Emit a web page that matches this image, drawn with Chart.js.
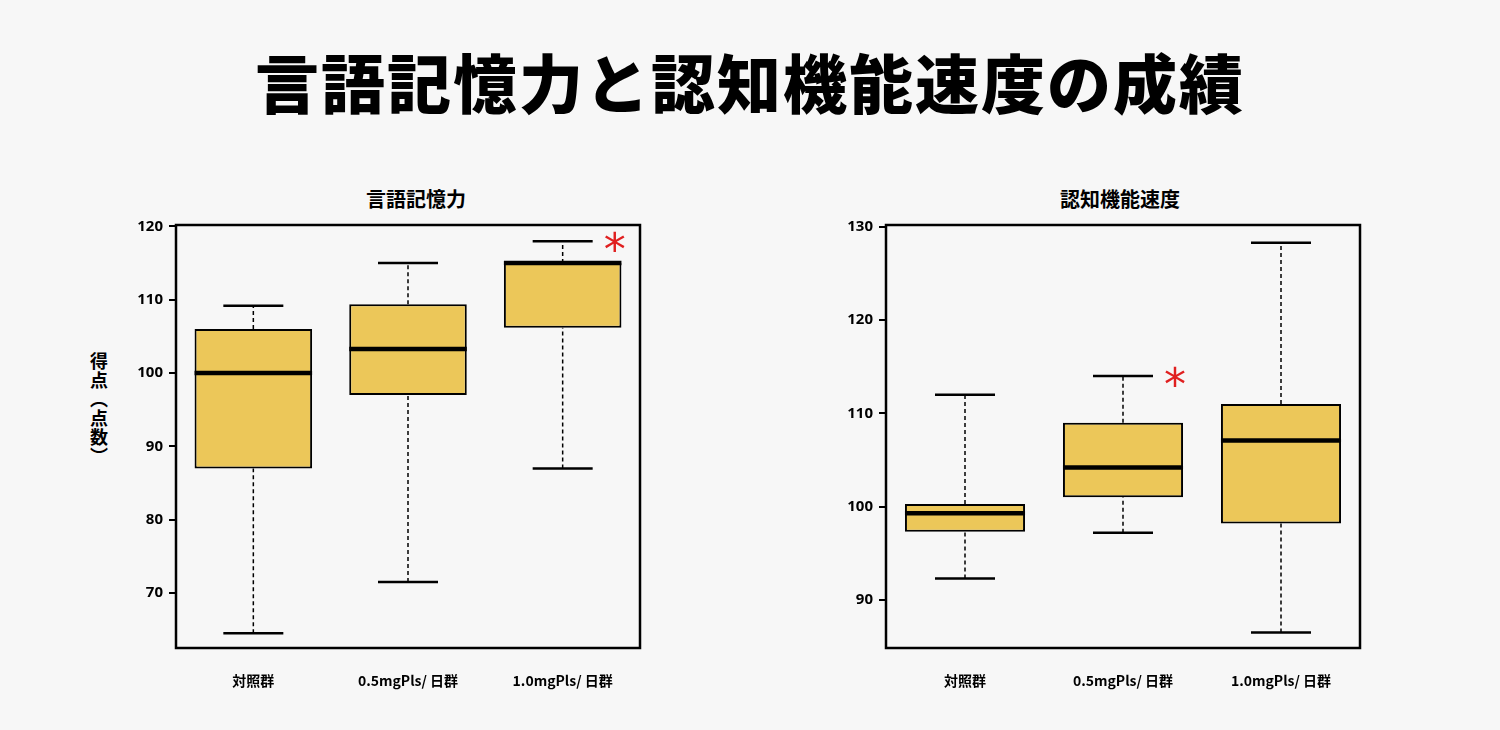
<!DOCTYPE html>
<html><head><meta charset="utf-8">
<script src="https://cdn.jsdelivr.net/npm/chart.js@4.4.0/dist/chart.umd.min.js"></script>
<style>
body{margin:0;width:1500px;height:730px;background:#f7f7f7;font-family:"Noto Sans CJK JP",sans-serif;position:relative;overflow:hidden}
.t{position:absolute;width:100%;text-align:center;top:34px;font-size:64px;font-weight:900;color:#000;letter-spacing:2px}
.st{position:absolute;top:184px;font-size:20px;font-weight:700;text-align:center;width:300px}
.yl{position:absolute;left:86px;top:352px;writing-mode:vertical-rl;font-size:18px;font-weight:700;letter-spacing:1px}
canvas{position:absolute}
</style></head><body>
<div class="t">言語記憶力と認知機能速度の成績</div>
<div class="st" style="left:266px">言語記憶力</div>
<div class="st" style="left:970px">認知機能速度</div>
<div class="yl">得点（点数）</div>
<canvas id="c1" style="left:80px;top:210px;width:600px;height:488px" width="600" height="488"></canvas>
<canvas id="c2" style="left:800px;top:210px;width:600px;height:488px" width="600" height="488"></canvas>
<script>
const categories = ["対照群", "0.5mgPls/ 日群", "1.0mgPls/ 日群"];
// 言語記憶力
const memMin = [64.5, 71.5, 87];
const memQ1 = [87, 97, 106.2];
const memMed = [100, 103.3, 115];
const memQ3 = [106, 109.4, 115];
const memMax = [109.2, 115, 118];
const memStar = [false, false, true];
const memTicks = [70, 80, 90, 100, 110, 120];
// 認知機能速度
const spdMin = [92.3, 97.2, 86.5];
const spdQ1 = [97.3, 101, 98.2];
const spdMed = [99.3, 104.2, 107.1];
const spdQ3 = [100.3, 109, 111];
const spdMax = [112, 114, 128.3];
const spdStar = [false, true, false];
const spdTicks = [90, 100, 110, 120, 130];

const whiskerPlugin = {
  id: "whiskers",
  afterDatasetsDraw(chart) {
    const d = chart.config.options.boxData;
    const x = chart.scales.x, y = chart.scales.y, ctx = chart.ctx;
    const meta = chart.getDatasetMeta(0);
    ctx.save();
    ctx.strokeStyle = "#000";
    d.min.forEach((_, i) => {
      const cx = x.getPixelForValue(i);
      const bw = meta.data[i].width;
      ctx.setLineDash([4, 3]);
      ctx.lineWidth = 1.5;
      ctx.beginPath();
      ctx.moveTo(cx, y.getPixelForValue(d.min[i])); ctx.lineTo(cx, y.getPixelForValue(d.q1[i]));
      ctx.moveTo(cx, y.getPixelForValue(d.q3[i])); ctx.lineTo(cx, y.getPixelForValue(d.max[i]));
      ctx.stroke();
      ctx.setLineDash([]);
      ctx.lineWidth = 2.5;
      ctx.beginPath();
      [d.min[i], d.max[i]].forEach(v => {
        const py = y.getPixelForValue(v);
        ctx.moveTo(cx - 30, py); ctx.lineTo(cx + 30, py);
      });
      ctx.stroke();
      ctx.lineWidth = 4.5;
      ctx.beginPath();
      const my = y.getPixelForValue(d.med[i]);
      ctx.moveTo(cx - bw / 2, my); ctx.lineTo(cx + bw / 2, my);
      ctx.stroke();
      if (d.star[i]) {
        ctx.fillStyle = "#e02020";
        ctx.font = "44px DejaVu Sans";
        ctx.textAlign = "center";
        ctx.textBaseline = "middle";
        ctx.fillText("*", cx + 52, y.getPixelForValue(d.max[i]) + 12);
      }
    });
    const a = chart.chartArea;
    ctx.lineWidth = 2.5;
    ctx.strokeRect(a.left, a.top, a.right - a.left, a.bottom - a.top);
    ctx.restore();
  }
};

function makeChart(id, d, ticks, yMin, yMax, yWidth) {
  new Chart(document.getElementById(id), {
    type: "bar",
    data: {
      labels: categories,
      datasets: [{
        data: d.q1.map((v, i) => [v, d.q3[i]]),
        backgroundColor: "#ecc759",
        borderColor: "#000",
        borderWidth: 2,
        borderSkipped: false,
        barPercentage: 0.76,
        categoryPercentage: 1
      }]
    },
    options: {
      boxData: d,
      responsive: false,
      animation: false,
      layout: { padding: { top: 10, right: 40 } },
      plugins: { legend: { display: false }, tooltip: { enabled: false } },
      scales: {
        x: {
          grid: { display: false },
          border: { display: false },
          ticks: { color: "#000", padding: 16, font: { size: 14, weight: "bold", family: "Noto Sans CJK JP" } },
          afterFit: s => { s.height = 50; }
        },
        y: {
          min: yMin, max: yMax,
          afterBuildTicks: s => { s.ticks = ticks.map(v => ({ value: v })); },
          grid: { drawOnChartArea: false, tickLength: 7, color: "#000", lineWidth: 2 },
          border: { display: false },
          ticks: { color: "#000", padding: 6, font: { size: 15, weight: "bold", family: "Noto Sans" } },
          afterFit: s => { s.width = yWidth; }
        }
      }
    },
    plugins: [whiskerPlugin]
  });
}

makeChart("c1", { min: memMin, q1: memQ1, med: memMed, q3: memQ3, max: memMax, star: memStar }, memTicks, 62.5, 120.2, 96);
makeChart("c2", { min: spdMin, q1: spdQ1, med: spdMed, q3: spdQ3, max: spdMax, star: spdStar }, spdTicks, 84.85, 130.2, 86);
</script>
</body></html>
